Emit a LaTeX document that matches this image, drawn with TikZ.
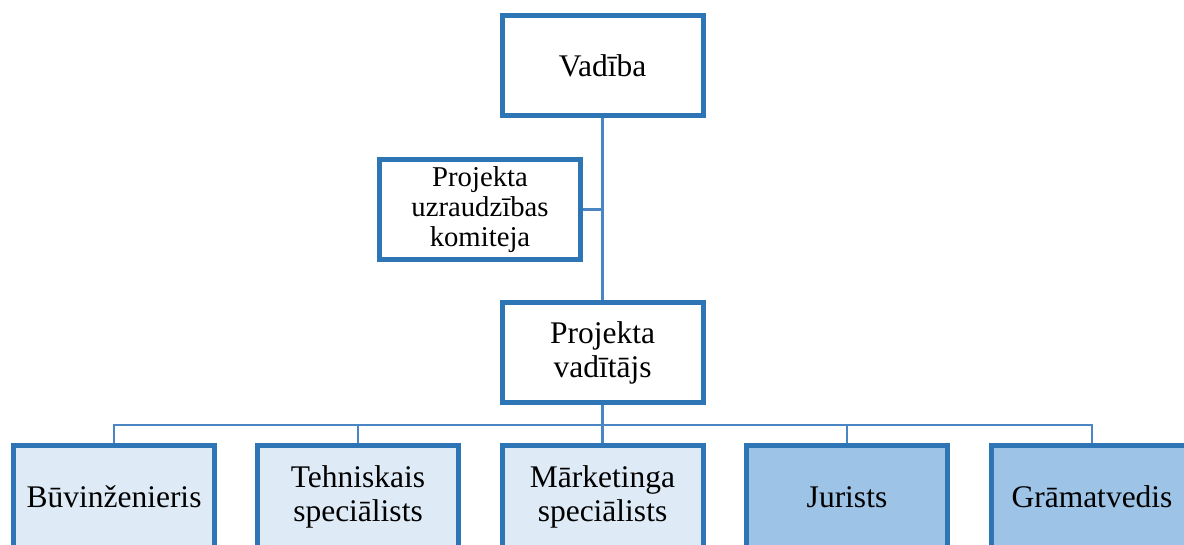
\documentclass[tikz,border=0pt]{standalone}
\usepackage{fontspec}
\setmainfont{Liberation Serif}
\definecolor{bordblue}{HTML}{2E75B6}
\definecolor{lineblue}{HTML}{4A86C4}
\definecolor{lightfill}{HTML}{DEEBF7}
\definecolor{darkfill}{HTML}{9DC3E6}
\tikzset{
  orgbox/.style={draw=bordblue, line width=5pt, minimum width=201pt, minimum height=100pt,
    inner sep=0pt, align=center, font=\fontsize{31.5}{34}\selectfont, fill=white},
  smallbox/.style={orgbox, font=\fontsize{28.7}{30}\selectfont},
  lightbox/.style={orgbox, fill=lightfill, minimum height=103pt},
  darkbox/.style={orgbox, fill=darkfill, minimum height=103pt},
  conn/.style={draw=lineblue, line width=2.6pt}
}
\begin{document}
\begin{tikzpicture}[x=1pt,y=-1pt]
\useasboundingbox (0,0) rectangle (1184,545);
\coordinate (bus) at (602.5,425);
\coordinate (tee) at (602.5,209.5);
\node[orgbox] (vad) at (602.5,65.5) {Vadība};
\node[smallbox] (com) at (480,209.5) {Projekta\\uzraudzības\\komiteja};
\node[orgbox] (pv) at (602.5,352.5) {Projekta\\vadītājs};
\node[lightbox] (b1) at (114,497) {Būvinženieris};
\node[lightbox] (b2) at (358,497) {Tehniskais\\speciālists};
\node[lightbox] (b3) at (602.5,497) {Mārketinga\\speciālists};
\node[darkbox] (b4) at (847,497) {Jurists};
\node[darkbox] (b5) at (1092,497) {Grāmatvedis};
\draw[conn] (vad.south) -- (pv.north);
\draw[conn] (com.east) -- (tee);
\draw[conn] (pv.south) -- (bus);
\draw[conn] (b1.north) -- (b1.north |- bus) -- (b5.north |- bus) -- (b5.north);
\draw[conn] (b2.north) -- (b2.north |- bus);
\draw[conn] (b3.north) -- (b3.north |- bus);
\draw[conn] (b4.north) -- (b4.north |- bus);
\end{tikzpicture}
\end{document}
